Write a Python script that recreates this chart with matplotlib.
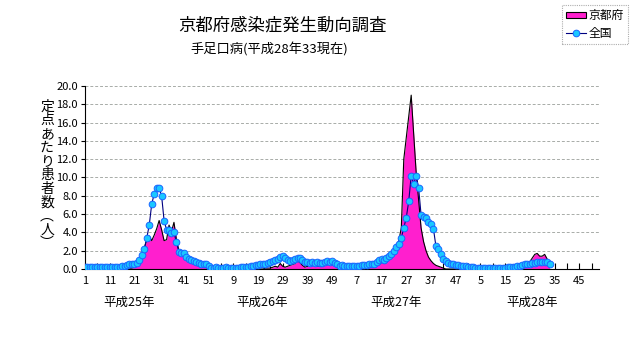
import numpy as np
import matplotlib.pyplot as plt
from matplotlib.patches import Patch
from matplotlib.lines import Line2D

plt.rcParams['font.family'] = ['Noto Sans CJK JP', 'DejaVu Sans']

# weekly cases per sentinel site, 52 weeks per year (H25 - H28 wk33)
national_h25 = [0.2, 0.2, 0.2, 0.2, 0.2, 0.2, 0.2, 0.2, 0.2, 0.2,
                0.2, 0.2, 0.2, 0.2, 0.2, 0.3, 0.3, 0.4, 0.5, 0.5,
                0.6, 0.7, 1.0, 1.5, 2.2, 3.4, 4.8, 7.1, 8.2, 8.9,
                8.8, 8.0, 5.3, 4.3, 4.3, 3.9, 4.0, 2.9, 1.9, 1.8,
                1.7, 1.3, 1.1, 1.0, 0.9, 0.8, 0.7, 0.6, 0.6, 0.5,
                0.3, 0.1]
national_h26 = [0.1, 0.2, 0.1, 0.1, 0.1, 0.2, 0.1, 0.1, 0.1, 0.1,
                0.1, 0.2, 0.2, 0.2, 0.2, 0.3, 0.3, 0.4, 0.4, 0.5,
                0.5, 0.6, 0.7, 0.8, 0.9, 1.0, 1.1, 1.3, 1.4, 1.2,
                1.0, 0.9, 1.0, 1.1, 1.2, 1.2, 1.0, 0.8, 0.8, 0.7,
                0.8, 0.7, 0.8, 0.7, 0.7, 0.8, 0.9, 0.8, 0.9, 0.7,
                0.5, 0.3]
national_h27 = [0.4, 0.3, 0.3, 0.3, 0.3, 0.3, 0.3, 0.3, 0.4, 0.4,
                0.4, 0.5, 0.5, 0.6, 0.8, 1.0, 1.1, 1.0, 1.25, 1.4,
                1.6, 2.0, 2.4, 2.7, 3.4, 4.5, 5.6, 7.4, 10.2, 9.3,
                10.2, 8.9, 5.9, 5.7, 5.6, 5.1, 4.9, 4.4, 2.5, 2.2,
                1.6, 1.1, 0.9, 0.7, 0.6, 0.5, 0.4, 0.4, 0.3, 0.3,
                0.3, 0.2]
national_h28 = [0.2, 0.2, 0.1, 0.1, 0.1, 0.1, 0.1, 0.1, 0.1, 0.1,
                0.1, 0.1, 0.1, 0.1, 0.1, 0.2, 0.2, 0.2, 0.2, 0.3,
                0.3, 0.4, 0.5, 0.5, 0.6, 0.7, 0.7, 0.8, 0.8, 0.8,
                0.8, 0.8, 0.6]

kyoto_h25 = [0.0, 0.0, 0.0, 0.0, 0.0, 0.0, 0.0, 0.0, 0.0, 0.0,
             0.0, 0.0, 0.0, 0.0, 0.0, 0.0, 0.0, 0.1, 0.1, 0.1,
             0.2, 0.3, 0.6, 1.3, 2.3, 3.2, 3.6, 3.1, 3.7, 4.4,
             5.3, 4.3, 3.1, 3.2, 4.8, 4.1, 5.1, 3.2, 2.0, 1.7,
             1.5, 1.2, 1.0, 0.9, 0.8, 0.7, 0.6, 0.5, 0.3, 0.2,
             0.1, 0.0]
kyoto_h26 = [0.0, 0.0, 0.0, 0.0, 0.0, 0.0, 0.0, 0.0, 0.0, 0.0,
             0.0, 0.0, 0.0, 0.0, 0.0, 0.0, 0.0, 0.0, 0.0, 0.0,
             0.0, 0.1, 0.1, 0.1, 0.2, 0.3, 0.2, 0.6, 0.3, 0.2,
             0.3, 0.4, 0.5, 0.6, 0.9, 0.7, 0.4, 0.2, 0.3, 0.4,
             0.5, 0.4, 0.3, 0.3, 0.3, 0.4, 0.5, 0.6, 0.7, 0.5,
             0.2, 0.1]
kyoto_h27 = [0.0, 0.0, 0.1, 0.1, 0.2, 0.2, 0.3, 0.3, 0.4, 0.4,
             0.5, 0.6, 0.7, 0.7, 0.8, 1.0, 1.1, 1.2, 1.4, 1.6,
             1.8, 2.2, 2.6, 3.1, 4.5, 12.0, 14.3, 16.6, 19.0, 14.8,
             10.6, 7.5, 4.5, 3.0, 2.0, 1.3, 0.9, 0.6, 0.4, 0.3,
             0.2, 0.1, 0.0, 0.0, 0.0, 0.0, 0.0, 0.0, 0.0, 0.0,
             0.0, 0.0]
kyoto_h28 = [0.0, 0.0, 0.0, 0.0, 0.0, 0.0, 0.0, 0.0, 0.0, 0.0,
             0.0, 0.0, 0.0, 0.0, 0.0, 0.1, 0.1, 0.1, 0.2, 0.2,
             0.3, 0.3, 0.4, 0.5, 0.8, 1.2, 1.6, 1.7, 1.4, 1.4,
             1.6, 1.1, 0.5]

week_labels = ["1", "11", "21", "31", "41", "51", "9", "19", "29", "39", "49",
               "7", "17", "27", "37", "47", "5", "15", "25", "35", "45"]
year_labels = ["平成25年", "平成26年", "平成27年", "平成28年"]
year_label_pos = [18, 71.5, 126, 181]

national = np.array(national_h25 + national_h26 + national_h27 + national_h28)
kyoto = np.array(kyoto_h25 + kyoto_h26 + kyoto_h27 + kyoto_h28)
n_weeks = 52 * 4

fig = plt.figure(figsize=(6.31, 3.47), dpi=100)
ax = fig.add_axes([85 / 631, 78 / 347, 514 / 631, 183 / 347])

xk = np.arange(len(kyoto))
xn = np.arange(len(national))
ax.fill_between(xk, kyoto, 0, color='#ff1fce', lw=0, zorder=2)
ax.plot(xk, kyoto, color='black', lw=0.8, zorder=3)
ax.plot(xn, national, color='#000080', lw=0.8, marker='o', ms=4.8,
        mfc='#19c8ff', mec='#1a66ff', mew=0.7, zorder=4)

ax.set_xlim(0, n_weeks)
ax.set_ylim(0, 20)
ax.set_yticks(np.arange(0, 20.1, 2))
ax.set_yticklabels([f"{v:.1f}" for v in np.arange(0, 20.1, 2)])
ax.set_xticks(np.arange(0, n_weeks, 10))
ax.set_xticklabels(week_labels)
ax.set_xticks(np.arange(5, n_weeks, 10), minor=True)
ax.tick_params(axis='x', which='both', direction='in', length=4, width=0.8,
               labelsize=8, pad=5)
ax.tick_params(axis='y', direction='out', length=3, width=0.8, labelsize=8, pad=2)

ax.grid(axis='y', color='#a8aca8', linestyle=(0, (3, 2)), lw=0.7)
ax.set_axisbelow(True)
ax.spines['top'].set_visible(False)
ax.spines['right'].set_visible(False)

xform = ax.get_xaxis_transform()
for pos, lab in zip(year_label_pos, year_labels):
    ax.text(pos, -0.18, lab, transform=xform, ha='center', va='center', fontsize=9)

ylab = "\n".join(list("定点あたり患者数") + ["︵", "人", "︶"])
fig.text(47 / 631, 1 - 175 / 347, ylab, ha='center', va='center',
         fontsize=10, linespacing=0.97)

fig.text(178 / 631, 1 - 26 / 347, "京都府感染症発生動向調査", ha='left', va='center',
         fontsize=12.5)
fig.text(190 / 631, 1 - 50 / 347, "手足口病(平成28年33現在)", ha='left', va='center',
         fontsize=9.5)

handles = [Patch(facecolor='#ff1fce', edgecolor='black', lw=0.8),
           Line2D([], [], color='#000080', lw=0.8, marker='o', ms=4.8,
                  mfc='#19c8ff', mec='#1a66ff', mew=0.7)]
leg = fig.legend(handles, ["京都府", "全国"], loc='upper right',
                 bbox_to_anchor=(628 / 631, 1 - 5 / 347), fontsize=8.5,
                 fancybox=False, handlelength=1.7, handleheight=0.5,
                 borderpad=0.35, labelspacing=0.4, handletextpad=0.2,
                 borderaxespad=0)
leg.get_frame().set_edgecolor('#999999')
leg.get_frame().set_linestyle((0, (1, 1)))
leg.get_frame().set_linewidth(0.8)

fig.savefig("out.png", dpi=100)
